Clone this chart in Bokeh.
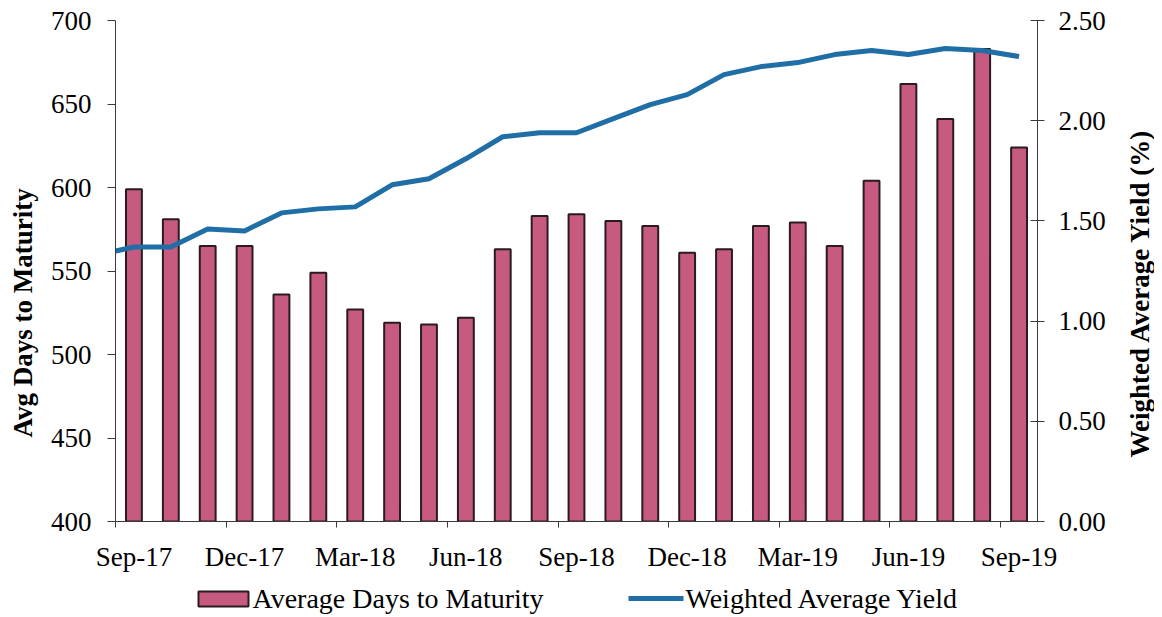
from math import pi
from bokeh.plotting import figure
from bokeh.layouts import row, column
from bokeh.models import Range1d, LinearAxis, FixedTicker, NumeralTickFormatter
from bokeh.core.properties import value
from bokeh.embed import file_html
from bokeh.resources import INLINE

# ---- data ----
months = ["Sep-17", "Oct-17", "Nov-17", "Dec-17", "Jan-18", "Feb-18", "Mar-18",
          "Apr-18", "May-18", "Jun-18", "Jul-18", "Aug-18", "Sep-18", "Oct-18",
          "Nov-18", "Dec-18", "Jan-19", "Feb-19", "Mar-19", "Apr-19", "May-19",
          "Jun-19", "Jul-19", "Aug-19", "Sep-19"]
avg_days = [599, 581, 565, 565, 536, 549, 527, 519, 518, 522, 563, 583, 584,
            580, 577, 561, 563, 577, 579, 565, 604, 662, 641, 683, 624]
# yield series starts one month earlier (Aug-17); its first segment is cut by the axis
yield_months = ["Aug-17"] + months
yield_pct = [1.33, 1.37, 1.37, 1.46, 1.45, 1.54, 1.56, 1.57, 1.68, 1.71, 1.81,
             1.92, 1.94, 1.94, 2.01, 2.08, 2.13, 2.23, 2.27, 2.29, 2.33, 2.35,
             2.33, 2.36, 2.35, 2.32]
left_ticks = [400, 450, 500, 550, 600, 650, 700]
right_ticks = [0.0, 0.5, 1.0, 1.5, 2.0, 2.5]
label_every = 3
left_title = "Avg Days to Maturity"
right_title = "Weighted Average Yield (%)"
series_names = ["Average Days to Maturity", "Weighted Average Yield"]

FONT = "Liberation Serif"
BAR_FILL = "#c65a80"
BAR_LINE = "#2a1b1e"
LINE_COL = "#1f6ea6"
AXIS_COL = "#3a3a3a"

n = len(months)
bar_x = list(range(n))
line_x = list(range(-1, n))

LEFT_W, MAIN_W, RIGHT_W, MAIN_H, LEG_H = 44, 1074, 36, 574, 40


def bare(w, h):
    f = figure(width=w, height=h, output_backend="svg", toolbar_location=None,
               x_range=Range1d(0, w), y_range=Range1d(0, h), min_border=0)
    f.xaxis.visible = False
    f.yaxis.visible = False
    f.xgrid.visible = False
    f.ygrid.visible = False
    f.outline_line_color = None
    return f


# ---- main chart ----
p = figure(width=MAIN_W, height=MAIN_H, output_backend="svg", toolbar_location=None,
           x_range=Range1d(-0.5, n - 0.5), y_range=Range1d(left_ticks[0], left_ticks[-1]),
           min_border_left=71, min_border_right=81, min_border_top=20,
           min_border_bottom=53)
p.outline_line_color = None
p.xgrid.visible = False
p.ygrid.visible = False
p.extra_y_ranges = {"pct": Range1d(right_ticks[0], right_ticks[-1])}
p.add_layout(LinearAxis(y_range_name="pct", ticker=FixedTicker(ticks=right_ticks),
                        formatter=NumeralTickFormatter(format="0.00")), "right")

p.vbar(x=bar_x, top=avg_days, bottom=left_ticks[0], width=0.43,
       fill_color=BAR_FILL, line_color=BAR_LINE, line_width=2)
p.line(x=line_x, y=yield_pct, y_range_name="pct", line_color=LINE_COL, line_width=5)

major = list(range(0, n, label_every))
minor = [m - 0.5 for m in major]
xa = p.xaxis[0]
xa.ticker = FixedTicker(ticks=major, minor_ticks=minor)
xa.major_label_overrides = {i: months[i] for i in major}
xa.major_tick_out = 0
xa.major_tick_in = 0
xa.minor_tick_out = 6
xa.minor_tick_in = 0
xa.major_label_standoff = 14

ya = p.yaxis[0]
ya.ticker = FixedTicker(ticks=left_ticks)
ya.major_tick_out = 8
ya.major_tick_in = 0
ya.major_label_standoff = 16

ra = p.yaxis[1]
ra.major_tick_out = 7
ra.major_tick_in = 7
ra.major_label_standoff = 14

for ax in [xa, ya, ra]:
    ax.major_label_text_font = FONT
    ax.major_label_text_font_size = "27px"
    ax.major_label_text_color = "black"
    ax.axis_line_color = AXIS_COL
    ax.major_tick_line_color = AXIS_COL
    ax.minor_tick_line_color = AXIS_COL
for ax in [ya, ra]:
    ax.minor_tick_out = 0
    ax.minor_tick_in = 0

# ---- axis titles (read bottom-to-top) ----
lt = bare(LEFT_W, MAIN_H)
lt.text(x=[22], y=[239], text=[left_title], angle=pi / 2,
        text_font=value(FONT), text_font_size="27px", text_font_style="bold",
        text_color="black", text_align="center", text_baseline="middle")
rt = bare(RIGHT_W, MAIN_H)
rt.text(x=[21], y=[262], text=[right_title], angle=pi / 2,
        text_font=value(FONT), text_font_size="27px", text_font_style="bold",
        text_color="black", text_align="center", text_baseline="middle")

# ---- legend ----
W = LEFT_W + MAIN_W + RIGHT_W
lg = bare(W, LEG_H)
lg.quad(left=[198], right=[248], bottom=[8], top=[23],
        fill_color=BAR_FILL, line_color=BAR_LINE, line_width=2)
lg.segment(x0=[628], x1=[683], y0=[16], y1=[16], line_color=LINE_COL, line_width=5)
lg.text(x=[252, 685], y=[16, 16], text=series_names,
        text_font=value(FONT), text_font_size="28px", text_color="black",
        text_align="left", text_baseline="middle")

layout = column(row(lt, p, rt), lg)
open("out.html", "w").write(file_html(layout, INLINE))
